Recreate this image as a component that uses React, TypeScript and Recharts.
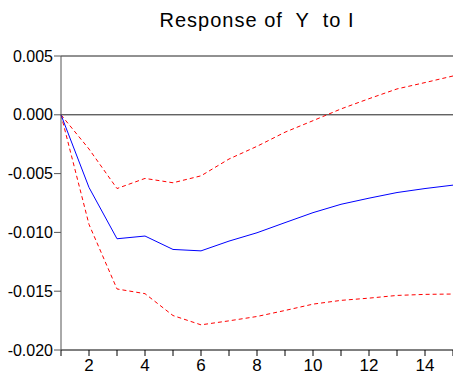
import { LineChart, Line, XAxis, YAxis, ReferenceLine } from "recharts"

const steps = [1, 2, 3, 4, 5, 6, 7, 8, 9, 10, 11, 12, 13, 14, 15]
const response = [0, -0.00618, -0.01054, -0.01031, -0.01145, -0.01157, -0.01074, -0.01003, -0.00917, -0.00832, -0.00761, -0.00709, -0.00661, -0.00627, -0.00598]
const upperBand = [0, -0.00291, -0.00627, -0.00541, -0.00578, -0.00519, -0.00376, -0.00268, -0.00148, -0.0005, 0.0005, 0.00137, 0.0022, 0.00274, 0.0033]
const lowerBand = [0, -0.00932, -0.01481, -0.01521, -0.01707, -0.01786, -0.01752, -0.01715, -0.01664, -0.0161, -0.01578, -0.01559, -0.01536, -0.01527, -0.01524]
const yTicks = [-0.02, -0.015, -0.01, -0.005, 0, 0.005]

const data = steps.map((s, i) => ({
  step: s,
  irf: response[i],
  upper: upperBand[i],
  lower: lowerBand[i],
}))

const font = "'Liberation Sans', Arial, sans-serif"

export default function App() {
  return (
    <div style={{ position: "absolute", left: 0, top: 0, width: 453, height: 374, background: "#fff" }}>
      <div
        style={{
          position: "absolute",
          left: 61,
          width: 392,
          top: 9,
          textAlign: "center",
          fontFamily: font,
          fontSize: 20,
          letterSpacing: 1,
          whiteSpace: "pre",
          color: "#000",
        }}
      >
        {"Response of  Y  to I"}
      </div>
      <LineChart width={453} height={374} data={data} margin={{ top: 56, right: 0, left: 0, bottom: 0 }}>
        <XAxis
          dataKey="step"
          type="number"
          domain={[1, 15]}
          ticks={steps}
          interval={0}
          tickFormatter={(v: number) => (v % 2 === 0 ? String(v) : "")}
          height={24}
          tickSize={6}
          tickMargin={3}
          stroke="#000"
          tick={{ fill: "#000", fontSize: 17, fontFamily: font }}
        />
        <YAxis
          type="number"
          domain={[-0.02, 0.005]}
          ticks={yTicks}
          interval={0}
          allowDataOverflow
          width={61}
          tickSize={7}
          tickMargin={1}
          tickFormatter={(v: number) => v.toFixed(3)}
          stroke="#555"
          tick={{ fill: "#000", fontSize: 16, fontFamily: font, letterSpacing: 0 }}
        />
        <ReferenceLine y={0} stroke="#222" />
        <ReferenceLine y={0.005} stroke="#222" />
        <Line dataKey="upper" stroke="#ff0000" strokeDasharray="4 3" dot={false} isAnimationActive={false} />
        <Line dataKey="lower" stroke="#ff0000" strokeDasharray="4 3" dot={false} isAnimationActive={false} />
        <Line dataKey="irf" stroke="#0000ff" dot={false} isAnimationActive={false} />
      </LineChart>
    </div>
  )
}
